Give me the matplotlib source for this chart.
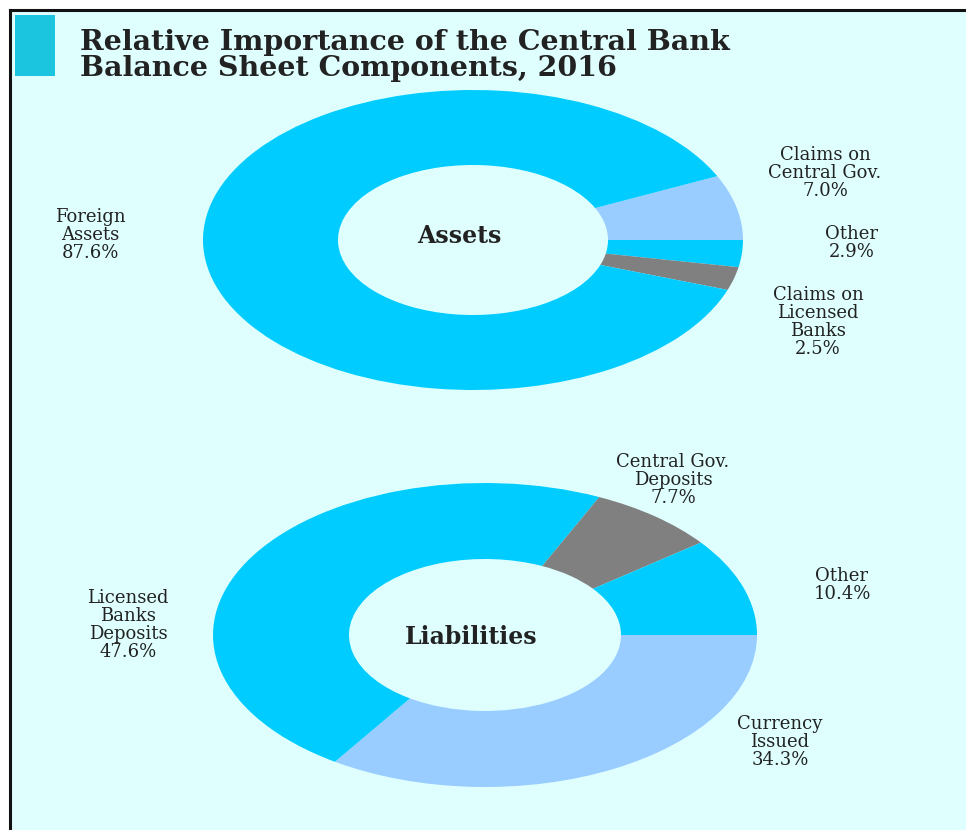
import matplotlib.pyplot as plt
from matplotlib.patches import Rectangle
from matplotlib.lines import Line2D

W, H = 966, 830

# Assets donut
asset_labels = ['Claims on\nCentral Gov.', 'Other', 'Claims on\nLicensed\nBanks', 'Foreign\nAssets']
asset_values = [7.0, 2.9, 2.5, 87.6]
asset_colors = ['#99CCFF', '#00CCFF', '#808080', '#00CCFF']

# Liabilities donut
liab_labels = ['Currency\nIssued', 'Licensed\nBanks\nDeposits', 'Central Gov.\nDeposits', 'Other']
liab_values = [34.3, 47.6, 7.7, 10.4]
liab_colors = ['#99CCFF', '#00CCFF', '#808080', '#00CCFF']

BG = '#DFFFFF'
TXT = '#222222'


def fx(x):
    return x / W


def fy(y):
    return 1 - y / H


def box(left, top, width, height):
    return [fx(left), fy(top + height), width / W, height / H]


fig = plt.figure(figsize=(W / 100, H / 100), dpi=100, facecolor='white')

# background panel with top/left border
fig.patches.append(Rectangle((fx(11), 0), 1 - fx(11), fy(11), transform=fig.transFigure,
                             facecolor=BG, edgecolor='none', zorder=-5))
fig.lines.append(Line2D([fx(10), fx(10)], [0, fy(10)], transform=fig.transFigure,
                        color='#111111', linewidth=2.2, zorder=-4))
fig.lines.append(Line2D([fx(10), 1], [fy(10), fy(10)], transform=fig.transFigure,
                        color='#111111', linewidth=2.2, zorder=-4))

# title block
fig.patches.append(Rectangle((fx(15), fy(76)), fx(55) - fx(15), fy(15) - fy(76),
                             transform=fig.transFigure, facecolor='#1CC5DF',
                             edgecolor='none', zorder=-4))
fig.text(fx(80), fy(43), 'Relative Importance of the Central Bank', fontsize=20.5,
         family='DejaVu Serif', weight='bold', color=TXT, va='center', ha='left')
fig.text(fx(80), fy(69), 'Balance Sheet Components, 2016', fontsize=20.5,
         family='DejaVu Serif', weight='bold', color=TXT, va='center', ha='left')


def donut(rect, values, colors, start, center_text, ty):
    ax = fig.add_axes(rect)
    ax.pie(values, colors=colors, startangle=start, counterclock=False,
           radius=1, wedgeprops=dict(width=0.5, edgecolor='none'))
    ax.set_aspect('auto')
    ax.set_xlim(-1, 1)
    ax.set_ylim(-1, 1)
    ax.axis('off')
    ax.text(-0.05, ty, center_text, ha='center', va='center', fontsize=17,
            family='DejaVu Serif', weight='bold', color=TXT)
    return ax


donut(box(203, 90, 540, 300), asset_values, asset_colors, 25.2, 'Assets', 0.03)
donut(box(213, 483, 544, 304), liab_values, liab_colors, 0, 'Liabilities', -0.01)

# labels: pixel centres of each label block
asset_pos = [(825, 173), (852, 243), (818, 322), (90, 235)]
liab_pos = [(780, 742), (128, 625), (673, 480), (842, 585)]

for lab, val, (x, y) in zip(asset_labels + liab_labels, asset_values + liab_values,
                            asset_pos + liab_pos):
    fig.text(fx(x), fy(y), '%s\n%.1f%%' % (lab, val), ha='center', va='center',
             fontsize=13, family='DejaVu Serif', color=TXT, linespacing=1.0)

fig.savefig('out.png', dpi=100, facecolor=fig.get_facecolor())
